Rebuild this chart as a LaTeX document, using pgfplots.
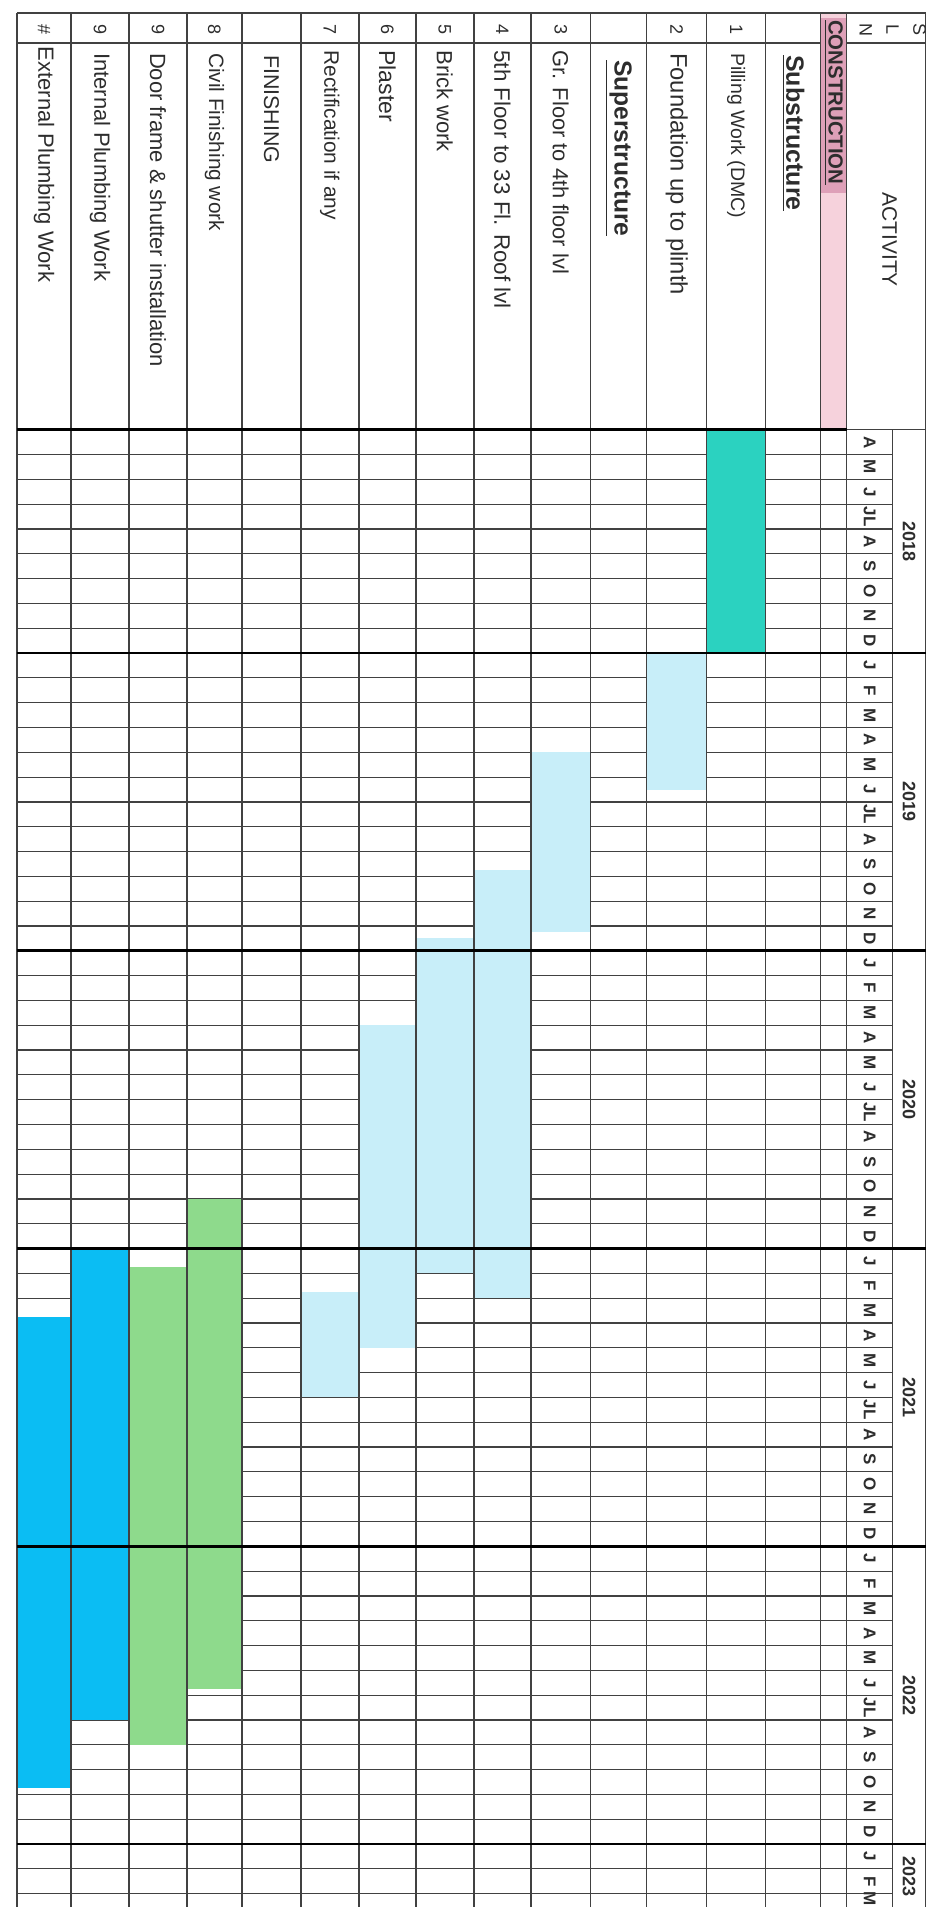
\documentclass[border=0pt]{standalone}
\usepackage{fontspec}
\setmainfont{Liberation Sans}
\usepackage{pgfplots}
\pgfplotsset{compat=1.18}

\definecolor{pile}{RGB}{43,210,192}
\definecolor{lblue}{RGB}{200,238,249}
\definecolor{fgreen}{RGB}{142,218,140}
\definecolor{fblue}{RGB}{11,189,243}
\definecolor{pinkl}{RGB}{246,210,220}
\definecolor{pinkd}{RGB}{222,160,184}
\definecolor{ink}{RGB}{45,45,45}
\definecolor{rule}{RGB}{65,65,65}

\newcommand\fs[1]{\fontsize{#1}{#1}\selectfont}
\newcommand\monthfont{\bfseries\fs{8.5}}
% one Gantt bar: x-left, x-right, start month, end month (0 = Apr 2018)
\newcommand\gbar[5]{\addplot[fill=#5, draw=none] coordinates {(#1,#3) (#2,#3) (#2,#4) (#1,#4)} -- cycle;}

\begin{document}
\begin{tikzpicture}
\begin{axis}[
  width=468pt, height=954pt, scale only axis,
  xmin=0, xmax=936, ymin=-17.32, ymax=59.55, y dir=reverse,
  axis line style={draw=none}, ticks=none, clip=false,
]
% CONSTRUCTION band
\addplot[fill=pinkl, draw=none] coordinates {(821,-16.8) (847,-16.8) (847,0) (821,0)} -- cycle;
\addplot[fill=pinkd, draw=none] coordinates {(821,-16.6) (847,-16.6) (847,-9.55) (821,-9.55)} -- cycle;

% month lines
\pgfplotsinvokeforeach{1,...,59}{
  \draw[rule, line width=0.6pt] (axis cs:17,#1) -- (axis cs:893,#1);
}

% bars
\gbar{707}{766}{0}{9}{pile}
\gbar{647}{707}{9}{14.5}{lblue}
\gbar{531}{591}{13}{20.25}{lblue}
\gbar{474}{531}{17.75}{35}{lblue}
\gbar{416}{474}{20.5}{34}{lblue}
\gbar{359}{416}{24}{37}{lblue}
\gbar{301}{359}{34.75}{39}{lblue}
\gbar{187}{242}{31}{50.75}{fgreen}
\gbar{129}{187}{33.75}{53}{fgreen}
\gbar{71}{129}{33}{52}{fblue}
\gbar{17}{71}{35.75}{54.75}{fblue}

% column lines
\pgfplotsinvokeforeach{17,71,129,187,242,301,359,416,474,531,591,647,707,766,821,847,926}{
  \draw[rule, line width=0.7pt] (axis cs:#1,-16.8) -- (axis cs:#1,59.55);
}
\draw[rule, line width=0.7pt] (axis cs:893,0) -- (axis cs:893,59.55);
% header lines
\draw[rule, line width=0.7pt] (axis cs:17,-16.8) -- (axis cs:926,-16.8);
\draw[rule, line width=0.6pt] (axis cs:17,-15.59) -- (axis cs:821,-15.59);
\draw[rule, line width=0.6pt] (axis cs:847,-15.59) -- (axis cs:926,-15.59);
\draw[black, line width=1.4pt] (axis cs:17,0) -- (axis cs:847,0);
\draw[rule, line width=0.7pt] (axis cs:847,0) -- (axis cs:926,0);
% year lines
\pgfplotsinvokeforeach{9,21,33,45,57}{
  \draw[black, line width=1.4pt] (axis cs:17,#1) -- (axis cs:926,#1);
}

% month letters
\foreach \lab [count=\i from 0] in {A,M,J,JL,A,S,O,N,D,
  J,F,M,A,M,J,JL,A,S,O,N,D, J,F,M,A,M,J,JL,A,S,O,N,D,
  J,F,M,A,M,J,JL,A,S,O,N,D, J,F,M,A,M,J,JL,A,S,O,N,D, J,F} {
  \edef\temp{\noexpand\node[rotate=-90, text=ink, font=\noexpand\monthfont, inner sep=0pt] at (axis cs:870,\i.5) {\lab};}
  \temp
}
\node[rotate=-90, text=ink, font=\monthfont, inner sep=0pt] at (axis cs:870,59.2) {M};

% years
\foreach \yy/\yl in {4.5/2018, 15/2019, 27/2020, 39/2021, 51/2022, 58.3/2023} {
  \edef\temp{\noexpand\node[rotate=-90, text=ink, font=\noexpand\bfseries\noexpand\fs{9}, inner sep=0pt] at (axis cs:909.5,\yy) {\yl};}
  \temp
}

% header texts
\node[rotate=-90, text=ink, font=\fs{9}, inner sep=0pt] at (axis cs:920,-16.12) {S};
\node[rotate=-90, text=ink, font=\fs{9}, inner sep=0pt] at (axis cs:893,-16.12) {L};
\node[rotate=-90, text=ink, font=\fs{9}, inner sep=0pt] at (axis cs:866,-16.12) {N};
\node[rotate=-90, text=ink, font=\fs{10.5}, inner sep=0pt] at (axis cs:890,-7.66) {ACTIVITY};
\node[rotate=-90, anchor=west, text=ink, font=\bfseries\fs{10.2}, inner sep=0pt] at (axis cs:834,-16.52) {\underline{CONSTRUCTION}};
\node[rotate=-90, anchor=west, text=ink, font=\bfseries\fs{12.5}, inner sep=0pt] at (axis cs:793.5,-15.11) {\underline{Substructure}};
\node[rotate=-90, anchor=west, text=ink, font=\bfseries\fs{12.3}, inner sep=0pt] at (axis cs:619,-14.91) {\underline{Superstructure}};
\node[rotate=-90, anchor=west, text=ink, font=\fs{10.7}, inner sep=0pt] at (axis cs:271.5,-15.11) {FINISHING};

% serial numbers
\foreach \xx/\nn in {736.5/1, 677/2, 561/3, 502.5/4, 445/5, 387.5/6, 330/7, 214.5/8, 158/9, 100/9, 44/\#} {
  \edef\temp{\noexpand\node[rotate=-90, text=ink, font=\noexpand\fs{9}, inner sep=0pt] at (axis cs:\xx,-16.12) {\nn};}
  \temp
}

% activity names
\node[rotate=-90, anchor=west, text=ink, font=\fs{9.75}, inner sep=0pt] at (axis cs:736.5,-15.2) {Pilling Work (DMC)};
\node[rotate=-90, anchor=west, text=ink, font=\fs{11.9}, inner sep=0pt] at (axis cs:677,-15.2) {Foundation up to plinth};
\node[rotate=-90, anchor=west, text=ink, font=\fs{10.95}, inner sep=0pt] at (axis cs:561,-15.3) {Gr. Floor to 4th floor lvl};
\node[rotate=-90, anchor=west, text=ink, font=\fs{11.2}, inner sep=0pt] at (axis cs:502.5,-15.3) {5th Floor to 33 Fl. Roof lvl};
\node[rotate=-90, anchor=west, text=ink, font=\fs{11}, inner sep=0pt] at (axis cs:445,-15.3) {Brick work};
\node[rotate=-90, anchor=west, text=ink, font=\fs{11.5}, inner sep=0pt] at (axis cs:387.5,-15.3) {Plaster};
\node[rotate=-90, anchor=west, text=ink, font=\fs{10.45}, inner sep=0pt] at (axis cs:330,-15.3) {Rectification if any};
\node[rotate=-90, anchor=west, text=ink, font=\fs{10.4}, inner sep=0pt] at (axis cs:214.5,-15.2) {Civil Finishing work};
\node[rotate=-90, anchor=west, text=ink, font=\fs{11}, inner sep=0pt] at (axis cs:158,-15.2) {Door frame \& shutter installation};
\node[rotate=-90, anchor=west, text=ink, font=\fs{11}, inner sep=0pt] at (axis cs:100,-15.2) {Internal Plumbing Work};
\node[rotate=-90, anchor=west, text=ink, font=\fs{11}, inner sep=0pt] at (axis cs:44,-15.45) {External Plumbing Work};
\end{axis}
\end{tikzpicture}
\end{document}
